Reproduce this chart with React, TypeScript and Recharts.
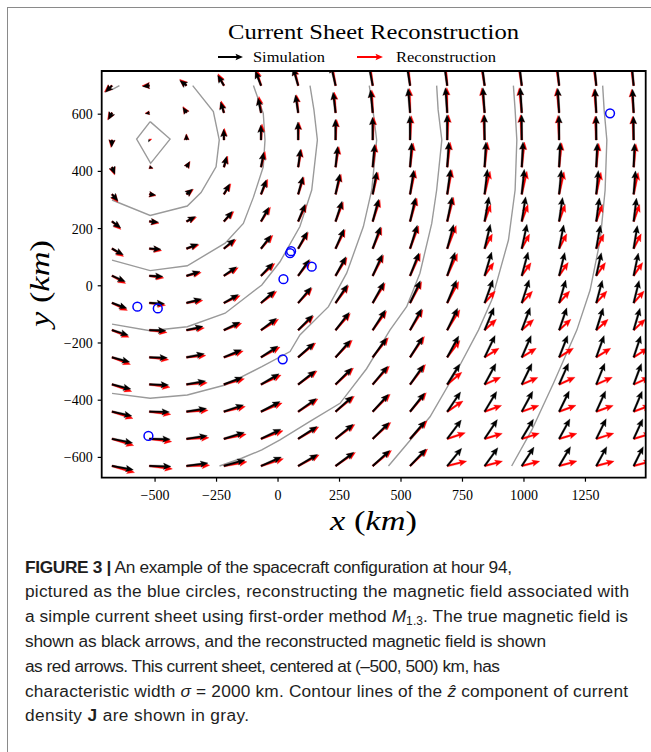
import React from 'react';
import {
  ComposedChart, XAxis, YAxis, Line, Scatter, ReferenceLine, ReferenceArea,
} from 'recharts';

// arrow tails (km)
const xGrid = [-675, -523, -372, -220, -69, 82, 234, 385, 537, 688, 840, 991, 1143, 1294, 1446];
const yGrid = [-630, -535, -440, -345, -250, -155, -60, 35, 130, 225, 320, 415, 510, 605, 700];

// simulated field, rows bottom -> top (arbitrary units)
const simU = [
  [21.7, 21.9, 21.8, 21.4, 20.6, 19.6, 18.5, 17.3, 16.1, 14.7, 13.5, 12.5, 11.6, 10.7, 9.8],
  [21.0, 21.2, 21.1, 20.7, 20.1, 19.2, 17.9, 16.7, 15.5, 14.3, 13.0, 11.9, 11.0, 10.1, 9.3],
  [20.2, 20.4, 20.3, 19.9, 19.3, 18.4, 17.3, 16.0, 14.8, 13.6, 12.3, 11.2, 10.3, 9.5, 8.7],
  [19.2, 19.5, 19.4, 18.9, 18.3, 17.5, 16.5, 15.2, 13.9, 12.8, 11.5, 10.4, 9.5, 8.7, 8.0],
  [18.0, 18.3, 18.1, 17.8, 17.1, 16.2, 15.2, 14.2, 12.9, 11.7, 10.7, 9.6, 8.7, 8.0, 7.3],
  [16.6, 16.8, 16.7, 16.3, 15.7, 14.8, 13.9, 12.9, 11.7, 10.6, 9.6, 8.6, 7.8, 7.1, 6.5],
  [15.1, 15.4, 15.2, 14.7, 13.9, 13.2, 12.2, 11.4, 10.4, 9.4, 8.5, 7.6, 6.8, 6.2, 5.6],
  [13.5, 13.8, 13.7, 12.9, 12.1, 11.4, 10.5, 9.8, 9.0, 8.0, 7.2, 6.5, 5.8, 5.2, 4.8],
  [11.5, 11.8, 11.6, 11.0, 10.1, 9.3, 8.6, 7.9, 7.3, 6.5, 5.9, 5.3, 4.7, 4.2, 3.8],
  [8.9, 9.3, 9.1, 8.6, 7.9, 7.1, 6.6, 6.0, 5.5, 5.0, 4.4, 4.0, 3.5, 3.2, 2.9],
  [6.1, 6.4, 6.2, 5.8, 5.3, 4.8, 4.4, 4.0, 3.7, 3.3, 2.9, 2.6, 2.3, 2.1, 1.9],
  [3.0, 3.6, 3.1, 2.8, 2.6, 2.3, 2.1, 1.9, 1.7, 1.6, 1.4, 1.3, 1.1, 1.0, 0.9],
  [-0.4, -0.9, -0.4, -0.3, -0.3, -0.3, -0.2, -0.2, -0.2, -0.2, -0.2, -0.1, -0.1, -0.1, -0.1],
  [-3.7, -4.1, -3.8, -3.5, -3.2, -2.8, -2.6, -2.3, -2.1, -1.9, -1.7, -1.5, -1.4, -1.2, -1.1],
  [-6.8, -7.0, -6.9, -6.4, -5.9, -5.3, -4.8, -4.4, -4.0, -3.7, -3.2, -2.9, -2.6, -2.3, -2.1],
];
const simV = [
  [-3.4, -0.4, 2.5, 5.3, 7.8, 10.1, 12.0, 13.6, 14.8, 15.5, 16.0, 16.5, 16.9, 16.9, 16.9],
  [-3.6, -0.4, 2.7, 5.6, 8.4, 10.8, 12.7, 14.3, 15.6, 16.4, 16.8, 17.2, 17.4, 17.5, 17.4],
  [-3.8, -0.4, 2.8, 5.9, 8.8, 11.4, 13.5, 15.1, 16.3, 17.2, 17.6, 17.8, 18.1, 18.1, 17.9],
  [-4.0, -0.5, 3.0, 6.3, 9.3, 12.0, 14.3, 15.9, 17.1, 17.9, 18.3, 18.4, 18.5, 18.6, 18.3],
  [-4.2, -0.5, 3.1, 6.6, 9.8, 12.6, 14.9, 16.8, 17.8, 18.6, 19.1, 19.0, 19.0, 19.0, 18.8],
  [-4.4, -0.5, 3.3, 7.0, 10.3, 13.1, 15.5, 17.5, 18.6, 19.2, 19.7, 19.7, 19.5, 19.4, 19.2],
  [-4.7, -0.6, 3.5, 7.3, 10.7, 13.7, 16.0, 18.0, 19.3, 19.9, 20.3, 20.3, 20.0, 19.8, 19.6],
  [-5.1, -0.6, 3.8, 7.8, 11.2, 14.2, 16.6, 18.6, 20.0, 20.5, 20.8, 20.8, 20.4, 20.2, 19.9],
  [-5.4, -0.6, 4.1, 8.3, 11.7, 14.7, 17.1, 19.0, 20.4, 21.0, 21.2, 21.3, 20.8, 20.5, 20.1],
  [-5.7, -0.7, 4.3, 8.8, 12.4, 15.1, 17.6, 19.4, 20.8, 21.4, 21.6, 21.6, 21.0, 20.6, 20.4],
  [-5.9, -0.7, 4.5, 9.1, 12.7, 15.4, 17.8, 19.6, 21.1, 21.7, 21.8, 21.8, 21.3, 20.8, 20.5],
  [-6.2, -0.9, 4.8, 9.4, 13.0, 15.6, 18.0, 19.8, 21.2, 21.9, 21.9, 22.0, 21.4, 20.9, 20.6],
  [-6.3, -1.8, 4.9, 9.4, 13.1, 15.7, 18.0, 19.9, 21.2, 22.0, 22.0, 22.0, 21.4, 20.9, 20.6],
  [-6.1, -0.8, 4.7, 9.4, 13.0, 15.6, 17.9, 19.8, 21.2, 21.9, 21.9, 21.9, 21.4, 20.9, 20.6],
  [-5.9, -0.7, 4.5, 9.0, 12.7, 15.3, 17.8, 19.6, 21.0, 21.7, 21.8, 21.8, 21.2, 20.8, 20.5],
];

// reconstructed field
const recU = [
  [22.9, 23.4, 23.5, 23.4, 22.8, 21.3, 20.2, 19.1, 17.8, 19.8, 18.2, 18.3, 18.1, 18.2, 18.0],
  [22.1, 22.7, 22.8, 22.7, 22.4, 20.9, 19.6, 18.4, 17.3, 18.4, 18.0, 17.9, 18.1, 17.9, 18.0],
  [21.3, 21.8, 22.0, 21.8, 21.5, 20.1, 19.1, 17.8, 16.5, 16.1, 17.3, 17.4, 17.2, 17.3, 17.1],
  [20.1, 20.9, 21.1, 20.9, 20.4, 19.2, 18.2, 17.0, 15.7, 14.9, 16.3, 16.4, 16.2, 16.3, 16.1],
  [18.8, 19.6, 19.7, 19.7, 19.3, 17.8, 17.0, 15.9, 14.6, 12.9, 14.7, 14.8, 14.6, 14.7, 14.5],
  [17.3, 18.0, 18.2, 18.1, 17.8, 15.7, 15.0, 14.1, 13.0, 12.8, 12.1, 12.2, 12.0, 12.1, 11.9],
  [15.7, 16.4, 16.6, 16.5, 15.9, 14.2, 13.3, 12.7, 11.8, 11.7, 10.9, 11.0, 10.8, 10.9, 10.7],
  [13.9, 14.7, 15.0, 14.6, 14.0, 12.4, 11.7, 11.1, 10.4, 10.4, 9.4, 9.5, 9.3, 9.4, 9.2],
  [11.8, 12.5, 12.8, 12.5, 12.0, 10.3, 9.8, 9.2, 8.7, 9.1, 7.9, 8.0, 7.8, 7.9, 7.7],
  [9.0, 9.8, 10.2, 10.1, 9.6, 8.2, 7.8, 7.4, 7.0, 6.5, 6.3, 6.4, 6.2, 6.3, 6.1],
  [6.0, 6.7, 7.1, 7.1, 6.8, 5.9, 5.6, 5.4, 5.2, 4.8, 5.6, 5.3, 5.0, 4.8, 4.6],
  [2.6, 3.7, 3.7, 3.9, 4.1, 3.4, 3.4, 3.3, 3.2, 3.1, 2.9, 2.8, 2.6, 2.5, 2.3],
  [-1.1, 2.5, 0.0, 0.5, 1.0, 0.8, 1.1, 1.2, 1.3, 1.3, -1.3, -1.2, -1.2, -1.1, -1.1],
  [-4.6, -4.5, -3.6, -2.9, -2.1, -1.7, -1.3, -0.9, -0.6, -0.4, -2.8, -2.6, -2.5, -2.2, -2.1],
  [-7.8, -7.6, -7.0, -6.0, -5.1, -4.2, -3.6, -3.0, -2.5, -2.2, -4.3, -4.0, -3.7, -3.3, -3.1],
];
const recV = [
  [-5.8, -2.6, 0.6, 3.6, 6.3, 9.7, 11.8, 13.5, 14.8, 4.2, 4.2, 4.1, 4.3, 4.2, 4.3],
  [-5.9, -2.5, 0.9, 4.0, 7.1, 10.4, 12.5, 14.3, 15.7, 5.2, 4.7, 4.8, 4.6, 4.8, 4.7],
  [-6.0, -2.4, 1.1, 4.4, 7.6, 11.1, 13.4, 15.2, 16.5, 9.3, 5.4, 5.3, 5.5, 5.4, 5.5],
  [-6.1, -2.5, 1.4, 4.9, 8.2, 11.8, 14.3, 16.0, 17.4, 10.7, 6.2, 6.1, 6.3, 6.2, 6.3],
  [-6.2, -2.2, 1.6, 5.4, 8.9, 12.5, 14.9, 17.1, 18.2, 14.7, 7.9, 7.8, 8.0, 7.9, 8.0],
  [-6.3, -2.1, 1.9, 5.9, 9.5, 12.1, 14.5, 16.6, 17.8, 17.8, 9.4, 9.3, 9.5, 9.4, 9.5],
  [-6.5, -2.1, 2.2, 6.4, 10.1, 12.8, 15.1, 17.2, 18.6, 18.7, 10.4, 10.3, 10.5, 10.4, 10.5],
  [-6.7, -1.9, 2.8, 7.1, 10.8, 13.4, 15.9, 17.9, 19.4, 19.4, 11.5, 11.4, 11.6, 11.5, 11.6],
  [-6.9, -1.8, 3.3, 7.8, 11.6, 14.1, 16.5, 18.4, 19.9, 20.1, 12.8, 12.7, 12.9, 12.8, 12.9],
  [-7.0, -1.6, 3.7, 8.6, 12.5, 14.6, 17.1, 19.0, 20.4, 21.1, 14.8, 14.7, 14.9, 14.8, 14.9],
  [-7.0, -1.4, 4.2, 9.2, 13.1, 15.1, 17.5, 19.3, 20.8, 21.5, 20.1, 20.1, 19.7, 19.3, 19.0],
  [-7.0, -1.3, 4.8, 9.7, 13.7, 15.4, 17.9, 19.7, 21.1, 21.8, 21.8, 21.9, 21.3, 20.8, 20.5],
  [-6.7, 0.8, 5.3, 10.1, 14.0, 15.7, 18.0, 19.9, 21.2, 22.0, 22.0, 22.0, 21.4, 20.9, 20.6],
  [-6.2, -0.4, 5.4, 10.4, 14.2, 15.8, 18.1, 20.0, 21.3, 22.0, 21.8, 21.8, 21.3, 20.8, 20.5],
  [-5.7, -0.1, 5.5, 10.3, 14.1, 15.7, 18.1, 19.9, 21.3, 22.0, 21.6, 21.7, 21.1, 20.7, 20.4],
];

// contour lines of Jz (km)
const c1 = [[-520, 574], [-439, 513], [-518, 428], [-575, 513], [-520, 574]];
const c2 = [[-675, 300], [-520, 246], [-369, 279], [-313, 326], [-252, 416], [-239, 510], [-263, 609], [-347, 700]];
const c2corner = [[-675, 686], [-645, 700]];
const c3 = [[-675, 90], [-520, 53], [-369, 70], [-215, 149], [-141, 218], [-100, 310], [-60, 416], [-53, 510], [-60, 603], [-100, 700]];
const c4 = [[-675, -134], [-520, -157], [-369, -143], [-215, -96], [-66, 3], [8, 84], [89, 207], [137, 335], [160, 510], [146, 615], [130, 700]];
const c5 = [[-675, -376], [-520, -393], [-369, -382], [-215, -347], [-66, -283], [49, -230], [89, -172], [205, -73], [279, 44], [347, 207], [381, 335], [401, 510], [386, 615], [371, 700]];
const c6 = [[-238, -630], [-148, -603], [-66, -574], [8, -539], [130, -474], [252, -411], [360, -290], [455, -155], [523, -73], [577, 44], [625, 218], [645, 335], [666, 510], [651, 615], [645, 700]];
const c7 = [[449, -630], [618, -458], [740, -277], [815, -155], [869, -50], [937, 160], [964, 335], [971, 510], [964, 615], [957, 700]];
const c8 = [[950, -630], [1032, -504], [1120, -341], [1215, -155], [1269, -15], [1310, 160], [1330, 335], [1337, 510], [1326, 615], [1320, 700]];
const contours = [c1, c2, c2corner, c3, c4, c5, c6, c7, c8];

// spacecraft positions
const craftX = [-572, -489, -527, 19, 22, 49, 53, 137, 1350];
const craftY = [-73, -79, -525, -257, 23, 114, 121, 67, 603];

const xTicks = [-500, -250, 0, 250, 500, 750, 1000, 1250];
const yTicks = [-600, -400, -200, 0, 200, 400, 600];

const X_DOMAIN = [-717, 1495];
const Y_DOMAIN = [-671, 751];
const KM_PER_UNIT = 4; // quiver scale

const serif = '"Liberation Serif", "Times New Roman", serif';
const sans = '"Liberation Sans", Arial, sans-serif';

function arrowPoints(x1: number, y1: number, x2: number, y2: number) {
  const dx = x2 - x1;
  const dy = y2 - y1;
  const L = Math.hypot(dx, dy);
  if (L < 0.3) return null;
  const s = L < 7.5 ? L / 7.5 : 1;
  const w = (1.8 * s) / 2, hw = (6.4 * s) / 2, hl = 7.5 * s, ha = 6.5 * s;
  const ux = dx / L, uy = dy / L, nx = -uy, ny = ux;
  const pt = (t: number, n: number) => `${x1 + ux * t + nx * n},${y1 + uy * t + ny * n}`;
  return [pt(0, -w), pt(L - ha, -w), pt(L - hl, -hw), pt(L, 0), pt(L - hl, hw), pt(L - ha, w), pt(0, w)].join(' ');
}

const arrowShape = (color: string) => (p: any) => {
  const pts = arrowPoints(p.x1, p.y1, p.x2, p.y2);
  if (!pts) return <g />;
  return <polygon points={pts} fill={color} stroke={color} strokeWidth={0.3} clipPath={p.clipPath} />;
};

const arrows = (U: number[][], V: number[][], color: string, z: number) =>
  yGrid.flatMap((y, i) =>
    xGrid.map((x, j) => (
      <ReferenceLine
        key={`${color}-${i}-${j}`}
        segment={[{ x, y }, { x: x + U[i][j] * KM_PER_UNIT, y: y + V[i][j] * KM_PER_UNIT }]}
        ifOverflow="hidden"
        shape={arrowShape(color)}
        zIndex={z}
      />
    )),
  );

const fmt = (v: number) => String(v).replace('-', '\u2212');

const craftData = craftX.map((x, i) => ({ x, y: craftY[i] }));

// caption line widths in the figure
const capWidths = [487, 604, 603, 521, 475, 603, 224];

export default function App() {
  const base = (k: number) => 572.5 + k * 24.8;
  return (
    <div style={{ position: 'absolute', left: 0, top: 0, width: 651, height: 752, overflow: 'hidden', background: '#fff' }}>
      <div style={{ position: 'absolute', left: 7, top: 7, width: 700, height: 800, borderTop: '1px solid #8a8a8a', borderLeft: '1px solid #8a8a8a' }} />

      <div style={{ position: 'absolute', left: 0, top: 0 }}>
        <ComposedChart width={651} height={540} margin={{ top: 71, right: 5.3, left: 41.7, bottom: 32.3 }}>
          <XAxis
            type="number" dataKey="x" domain={X_DOMAIN} ticks={xTicks} allowDataOverflow
            height={30} tickSize={4} tickMargin={8} tickFormatter={fmt}
            axisLine={false} tickLine={{ stroke: '#000', strokeWidth: 1.2 }}
            tick={{ fill: '#000', fontSize: 14, fontFamily: serif }}
          />
          <YAxis
            type="number" dataKey="y" domain={Y_DOMAIN} ticks={yTicks} allowDataOverflow
            width={60} tickSize={4} tickMargin={5} tickFormatter={fmt}
            axisLine={false} tickLine={{ stroke: '#000', strokeWidth: 1.2 }}
            tick={{ fill: '#000', fontSize: 14, fontFamily: serif }}
          />
          {contours.map((c, k) => (
            <Line
              key={`c${k}`}
              data={c.map(([x, y]) => ({ x, y }))}
              dataKey="y" type="linear" dot={false} activeDot={false}
              stroke="#9a9a9a" strokeWidth={1.4}
              isAnimationActive={false} zIndex={100}
            />
          ))}
          {arrows(recU, recV, '#ff0000', 200)}
          {arrows(simU, simV, '#000000', 300)}
          <Scatter
            data={craftData} isAnimationActive={false} zIndex={400}
            shape={(p: any) => <circle cx={p.cx} cy={p.cy} r={4.4} fill="none" stroke="#0000ff" strokeWidth={1.5} />}
          />
          <ReferenceArea
            x1={X_DOMAIN[0]} x2={X_DOMAIN[1]} y1={Y_DOMAIN[0]} y2={Y_DOMAIN[1]}
            fill="none" fillOpacity={0} stroke="#000" strokeWidth={1.8} ifOverflow="visible" zIndex={500}
          />
        </ComposedChart>
      </div>

      <svg width={651} height={752} style={{ position: 'absolute', left: 0, top: 0, pointerEvents: 'none' }}>
        <text x={373.5} y={39} textAnchor="middle" fontFamily={serif} fontSize={21} fill="#000" textLength={291} lengthAdjust="spacingAndGlyphs">
          Current Sheet Reconstruction
        </text>
        <polygon points={arrowPoints(218, 57, 243, 57) || ''} fill="#000" />
        <text x={253} y={62} fontFamily={serif} fontSize={15} fill="#000" textLength={72} lengthAdjust="spacingAndGlyphs">Simulation</text>
        <polygon points={arrowPoints(357, 57, 383, 57) || ''} fill="#ff0000" />
        <text x={396} y={62} fontFamily={serif} fontSize={15} fill="#000" textLength={100} lengthAdjust="spacingAndGlyphs">Reconstruction</text>
        <text x={330} y={530} fontFamily={serif} fontSize={27} fill="#000" textLength={87} lengthAdjust="spacingAndGlyphs">
          <tspan fontStyle="italic">x</tspan>
          <tspan> (</tspan>
          <tspan fontStyle="italic">km</tspan>
          <tspan>)</tspan>
        </text>
        <text x={0} y={0} fontFamily={serif} fontSize={27} fill="#000" textLength={87} lengthAdjust="spacingAndGlyphs" transform="translate(49 327) rotate(-90)">
          <tspan fontStyle="italic">y</tspan>
          <tspan> (</tspan>
          <tspan fontStyle="italic">km</tspan>
          <tspan>)</tspan>
        </text>

        <g fontFamily={sans} fontSize={17.3} fill="#1e1e1e">
          <text x={25} y={base(0)} textLength={capWidths[0]} lengthAdjust="spacing">
            <tspan fontWeight="bold">FIGURE 3 |</tspan> An example of the spacecraft configuration at hour 94,
          </text>
          <text x={25} y={base(1)} textLength={capWidths[1]} lengthAdjust="spacing">
            pictured as the blue circles, reconstructing the magnetic field associated with
          </text>
          <text x={25} y={base(2)} textLength={capWidths[2]} lengthAdjust="spacing">
            a simple current sheet using first-order method <tspan fontStyle="italic">M</tspan><tspan fontSize={12} dy={3}>1.3</tspan><tspan dy={-3}>. The true magnetic field is</tspan>
          </text>
          <text x={25} y={base(3)} textLength={capWidths[3]} lengthAdjust="spacing">
            shown as black arrows, and the reconstructed magnetic field is shown
          </text>
          <text x={25} y={base(4)} textLength={capWidths[4]} lengthAdjust="spacing">
            as red arrows. This current sheet, centered at (–500, 500) km, has
          </text>
          <text x={25} y={base(5)} textLength={capWidths[5]} lengthAdjust="spacing">
            characteristic width <tspan fontStyle="italic">σ</tspan> = 2000 km. Contour lines of the <tspan fontStyle="italic">ẑ</tspan> component of current
          </text>
          <text x={25} y={base(6)} textLength={capWidths[6]} lengthAdjust="spacing">
            density <tspan fontWeight="bold">J</tspan> are shown in gray.
          </text>
        </g>
      </svg>
    </div>
  );
}
